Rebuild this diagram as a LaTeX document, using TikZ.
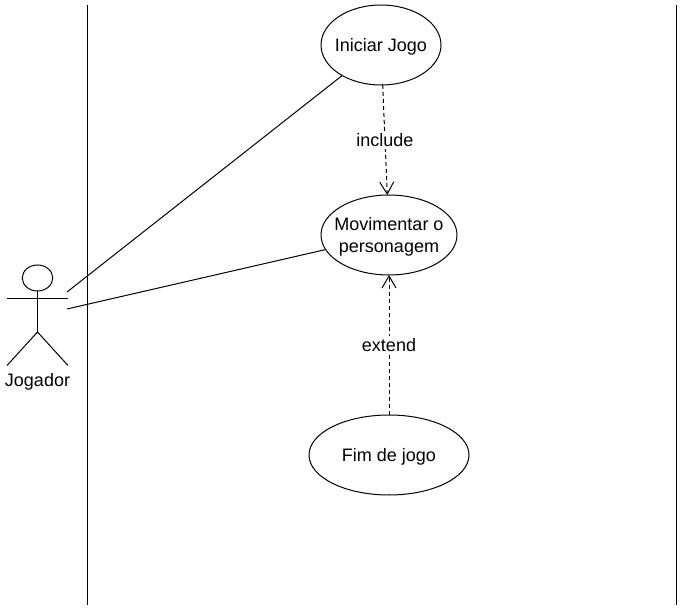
\documentclass[tikz,border=0pt]{standalone}
\usepackage{fontspec}
\setmainfont{Liberation Sans}
\usepackage{tikz}
\usetikzlibrary{positioning,arrows.meta,shapes.geometric}

\begin{document}
\begin{tikzpicture}[x=1pt, y=-1pt, line width=1pt,
    every node/.style={font=\fontsize{18}{22}\selectfont},
    usecase/.style={draw, ellipse, inner xsep=-8pt, inner ysep=0pt, outer sep=0pt, text depth=0pt, minimum height=80pt, align=center},
    dep/.style={dashed, dash pattern=on 4pt off 3pt, -{Straight Barb[length=12pt, width=14pt]}},
    >={Stealth[length=2mm]}]
  \useasboundingbox (0,0) rectangle (694,612);
  \node[usecase, minimum width=120pt] (ini) at (381,45) {Iniciar Jogo};
  \node[usecase, minimum width=136pt, below=110pt of ini, xshift=8pt] (mov) {Movimentar o\\personagem};
  \node[usecase, minimum width=160pt, below=140pt of mov] (fim) {Fim de jogo};
  % system boundary
  \coordinate (la) at (87,5); \coordinate (lb) at (87,605);
  \coordinate (ra) at (676,5); \coordinate (rb) at (676,605);
  \draw (la) -- (lb); \draw (ra) -- (rb);
  % actor
  \node[draw, ellipse, inner sep=0pt, outer sep=0pt, minimum width=30.5pt, minimum height=26pt] (head) at (37.5,278) {};
  \coordinate (hip) at (37.5,332);
  \coordinate (arml) at (7,298.5); \coordinate (armr) at (68,298.5);
  \coordinate (legl) at (7,365.5); \coordinate (legr) at (68,365.5);
  \draw (head) -- (hip); \draw (arml) -- (armr);
  \draw (legl) -- (hip) -- (legr);
  \node (jog) at (37.5,382) {Jogador};
  % links
  \coordinate (a1) at (67,292); \coordinate (a2) at (67,309);
  \draw (a1) -- (ini); \draw (a2) -- (mov);
  \draw[dep] (ini) -- node[fill=white, inner sep=2pt, pos=0.5] (inc) {include} (mov);
  \draw[dep] (fim) -- node[fill=white, inner sep=2pt, pos=0.5] (ext) {extend} (mov);
\end{tikzpicture}
\end{document}
